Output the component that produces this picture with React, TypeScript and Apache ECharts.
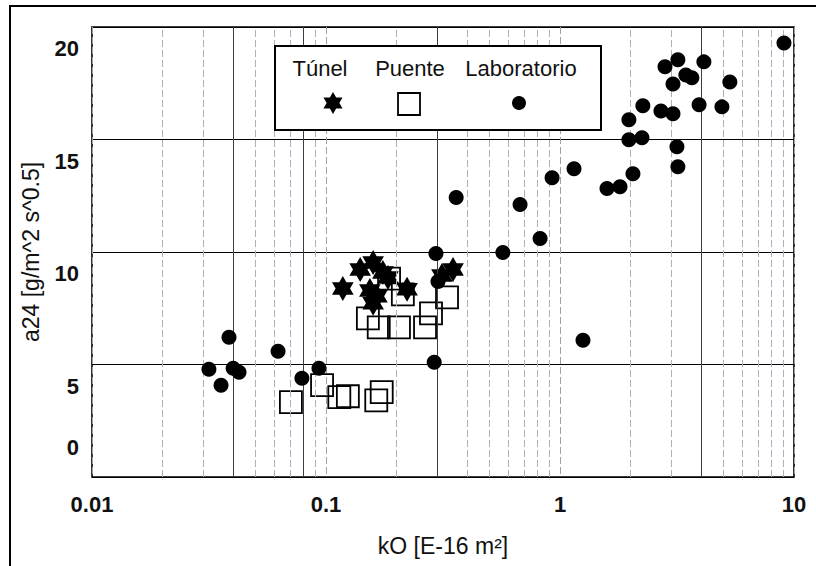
import React, { useEffect, useRef } from 'react';
import * as echarts from 'echarts';

const xTickLabels = ['0.01', '0.1', '1', '10'];
const yTickLabels = ['0', '5', '10', '15', '20'];
const minorGridX = [0.02, 0.03, 0.04, 0.05, 0.06, 0.07, 0.08, 0.09, 0.2, 0.3, 0.4, 0.5, 0.6, 0.7, 0.8, 0.9, 2, 3, 4, 5, 6, 7, 8, 9];
const darkGridX = [0.04, 0.08, 0.3, 4];

const legendNames = ['Túnel', 'Puente', 'Laboratorio'];

const tunelK = [0.118, 0.14, 0.159, 0.175, 0.184, 0.154, 0.159, 0.222, 0.349, 0.313, 0.165];
const tunelA = [8.38, 9.22, 9.53, 9.09, 8.87, 8.29, 7.72, 8.34, 9.22, 8.96, 8.03];

const puenteK = [0.186, 0.213, 0.329, 0.281, 0.265, 0.151, 0.168, 0.205, 0.0708, 0.0962, 0.114, 0.124, 0.164, 0.173];
const puenteA = [8.82, 8.12, 7.98, 7.27, 6.65, 7.05, 6.65, 6.65, 3.33, 4.08, 3.55, 3.59, 3.41, 3.77];

const labK = [0.0316, 0.0356, 0.0385, 0.0401, 0.0425, 0.0624, 0.0789, 0.0933, 0.29, 0.295, 0.301, 0.36, 0.57, 0.675, 0.822, 0.925, 1.148, 1.254, 1.588, 1.805, 2.05, 1.97, 2.24, 1.97, 2.26, 2.7, 3.04, 3.93, 4.92, 3.16, 3.19, 2.81, 3.19, 4.12, 3.45, 3.66, 3.04, 5.32, 9.06];
const labA = [4.79, 4.08, 6.21, 4.83, 4.66, 5.59, 4.39, 4.83, 5.1, 9.93, 8.69, 12.42, 9.98, 12.11, 10.6, 13.3, 13.7, 6.08, 12.82, 12.9, 13.48, 14.99, 15.08, 15.88, 16.5, 16.27, 16.14, 16.54, 16.45, 14.68, 13.79, 18.23, 18.54, 18.45, 17.87, 17.74, 17.47, 17.56, 19.29];

const FONT = '"Liberation Sans", Arial, Helvetica, sans-serif';
const STAR = 'path://M0,-10 L2.887,-5 L8.66,-5 L5.774,0 L8.66,5 L2.887,5 L0,10 L-2.887,5 L-8.66,5 L-5.774,0 L-8.66,-5 L-2.887,-5 Z';

function zip(a: number[], b: number[]) {
  return a.map((v, i) => [v, b[i]]);
}

function starPoints(cx: number, cy: number, r: number) {
  const pts: number[][] = [];
  for (let i = 0; i < 12; i++) {
    const ang = -Math.PI / 2 + (i * Math.PI) / 6;
    const rr = i % 2 === 0 ? r : r / Math.sqrt(3);
    pts.push([cx + rr * Math.cos(ang), cy + rr * Math.sin(ang)]);
  }
  return pts;
}

export default function App() {
  const ref = useRef<HTMLDivElement>(null);
  useEffect(() => {
    if (!ref.current) return;
    const chart = echarts.init(ref.current, undefined, { renderer: 'svg' });
    const legendFont = `22px ${FONT}`;
    const tickStyle = { fontFamily: FONT, fontSize: 22, fontWeight: 'bold', color: '#111' };
    chart.setOption({
      animation: false,
      backgroundColor: '#fff',
      grid: {
        left: 92,
        right: 22,
        top: 27,
        bottom: 89,
        show: true,
        borderColor: '#000',
        borderWidth: 1.6,
        backgroundColor: 'transparent',
      },
      xAxis: {
        type: 'log',
        logBase: 10,
        min: 0.01,
        max: 10,
        name: 'kO [E-16 m²]',
        nameLocation: 'middle',
        nameGap: 57,
        nameTextStyle: { fontFamily: FONT, fontSize: 23, color: '#111' },
        axisLine: { show: false },
        axisTick: { show: false },
        axisLabel: {
          margin: 16,
          ...tickStyle,
          formatter: (v: number) => {
            const l = xTickLabels.find((s) => Math.abs(Math.log10(Number(s)) - Math.log10(v)) < 1e-6);
            return l ?? '';
          },
        },
        splitLine: { show: true, lineStyle: { color: '#9aa2b0', width: 1, type: [7, 3] } },
      },
      yAxis: {
        type: 'value',
        min: 0,
        max: 20,
        interval: 5,
        name: 'a24 [g/m^2 s^0.5]',
        nameLocation: 'middle',
        nameGap: 50,
        nameRotate: 90,
        nameTextStyle: { fontFamily: FONT, fontSize: 23, color: '#111' },
        axisLine: { show: false },
        axisTick: { show: false },
        axisLabel: {
          margin: 13,
          ...tickStyle,
          formatter: (v: number) => {
            const l = yTickLabels.find((s) => Number(s) === v) ?? '';
            return v === 0 ? `{up|${l}}` : `{dn|${l}}`;
          },
          rich: {
            dn: { padding: [43, 0, 0, 0], ...tickStyle },
            up: { padding: [0, 0, 59, 0], ...tickStyle },
          },
        },
        splitLine: { show: true, lineStyle: { color: '#000', width: 1.2 } },
      },
      series: [
        {
          name: 'grid',
          type: 'scatter',
          data: [],
          z: 1,
          silent: true,
          markLine: {
            silent: true,
            symbol: 'none',
            label: { show: false },
            animation: false,
            data: minorGridX.map((v) => ({
              xAxis: v,
              lineStyle: darkGridX.includes(v)
                ? { color: '#3a3f47', width: 1, type: 'solid' }
                : { color: '#a9b1be', width: 1, type: [7, 3] },
            })),
          },
        },
        {
          name: legendNames[1],
          type: 'scatter',
          z: 3,
          symbol: 'rect',
          symbolSize: 22,
          itemStyle: { color: 'rgba(0,0,0,0)', borderColor: '#000', borderWidth: 1.8, opacity: 1 },
          data: zip(puenteK, puenteA),
        },
        {
          name: legendNames[0],
          type: 'scatter',
          z: 4,
          symbol: STAR,
          symbolSize: 25,
          symbolKeepAspect: true,
          itemStyle: { color: '#000', opacity: 1 },
          data: zip(tunelK, tunelA),
        },
        {
          name: legendNames[2],
          type: 'scatter',
          z: 5,
          symbol: 'circle',
          symbolSize: 15,
          itemStyle: { color: '#000', opacity: 1 },
          data: zip(labK, labA),
        },
      ],
      graphic: [
        {
          type: 'polyline',
          z: 100,
          shape: { points: [[10, 566], [10, 6], [816, 6]] },
          style: { stroke: '#000', lineWidth: 2, fill: 'none' },
        },
        {
          type: 'rect',
          z: 100,
          shape: { x: 275, y: 46, width: 326, height: 84 },
          style: { fill: '#fff', stroke: '#000', lineWidth: 2 },
        },
        {
          type: 'text',
          z: 101,
          style: { text: legendNames[0], x: 320, y: 68, font: legendFont, fill: '#111', textAlign: 'center', textVerticalAlign: 'middle', align: 'center', verticalAlign: 'middle' },
        },
        {
          type: 'text',
          z: 101,
          style: { text: legendNames[1], x: 410, y: 68, font: legendFont, fill: '#111', textAlign: 'center', textVerticalAlign: 'middle', align: 'center', verticalAlign: 'middle' },
        },
        {
          type: 'text',
          z: 101,
          style: { text: legendNames[2], x: 521, y: 68, font: legendFont, fill: '#111', textAlign: 'center', textVerticalAlign: 'middle', align: 'center', verticalAlign: 'middle' },
        },
        {
          type: 'polygon',
          z: 101,
          shape: { points: starPoints(333, 103, 11) },
          style: { fill: '#000' },
        },
        {
          type: 'rect',
          z: 101,
          shape: { x: 398, y: 93, width: 22, height: 22 },
          style: { fill: '#fff', stroke: '#000', lineWidth: 1.8 },
        },
        {
          type: 'circle',
          z: 101,
          shape: { cx: 519, cy: 103, r: 7 },
          style: { fill: '#000' },
        },
      ],
    });
    return () => chart.dispose();
  }, []);
  return <div ref={ref} style={{ position: 'fixed', left: 0, top: 0, width: 816, height: 566 }} />;
}
